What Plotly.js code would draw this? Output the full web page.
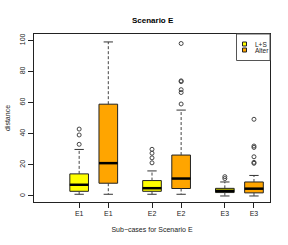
<!DOCTYPE html>
<html>
<head>
<meta charset="utf-8">
<script src="https://cdn.plot.ly/plotly-3.0.1.min.js"></script>
<style>html,body{margin:0;padding:0;background:#fff;}#chart{width:288px;height:245px;}</style>
</head>
<body>
<div id="chart"></div>
<script>
// ---- data ----
var tickLabels = ["E1", "E1", "E2", "E2", "E3", "E3"];
var groupNames = ["L+S", "Alter"];
var lsPos = [1, 3.5, 6];
var alterPos = [2, 4.5, 7];

var lsLower  = [1.1, 1.1, 0.0];
var lsQ1     = [3.0, 3.0, 2.2];
var lsMedian = [7.2, 5.0, 3.3];
var lsQ3     = [14.2, 9.9, 4.9];
var lsUpper  = [29.9, 16.1, 9.0];
var lsOutliers = [[33.2, 39.2, 43.0], [21.3, 24.5, 27.5, 30.0], [11.2, 12.4]];

var alterLower  = [1.1, 1.1, 0.0];
var alterQ1     = [8.2, 4.8, 2.0];
var alterMedian = [21.1, 11.2, 4.7];
var alterQ3     = [59.0, 26.3, 9.0];
var alterUpper  = [99.0, 55.2, 13.2];
var alterOutliers = [[], [59.1, 66.5, 68.3, 73.5, 74.0, 98.0], [21.0, 21.6, 25.2, 31.2, 32.1, 49.3]];

var yTicks = [0, 20, 40, 60, 80, 100];

// ---- styles ----
var colors = ["#FFFF00", "#FFA500"];
var FONT = "Liberation Sans, Arial, Helvetica, sans-serif";
var boxW = 0.64, stapleHalf = 0.16;
var edge = "#222";

function boxTrace(pos, q1, med, q3, col, name) {
  return {
    type: "box", x: pos, q1: q1, median: med, q3: q3,
    lowerfence: q1, upperfence: q3,
    width: boxW, whiskerwidth: 0,
    fillcolor: col, line: {color: edge, width: 1},
    boxpoints: false, hoverinfo: "skip", showlegend: false, name: name
  };
}
function whiskerTrace(pos, q1, q3, lo, hi) {
  var x = [], y = [];
  for (var i = 0; i < pos.length; i++) {
    x.push(pos[i], pos[i], null, pos[i], pos[i], null);
    y.push(q3[i], hi[i], null, q1[i], lo[i], null);
  }
  return {type: "scatter", mode: "lines", x: x, y: y, showlegend: false,
          hoverinfo: "skip", line: {color: "#444", width: 1, dash: "3px,2px"}};
}
function stapleTrace(pos, lo, hi) {
  var x = [], y = [];
  for (var i = 0; i < pos.length; i++) {
    x.push(pos[i] - stapleHalf, pos[i] + stapleHalf, null, pos[i] - stapleHalf, pos[i] + stapleHalf, null);
    y.push(hi[i], hi[i], null, lo[i], lo[i], null);
  }
  return {type: "scatter", mode: "lines", x: x, y: y, showlegend: false,
          hoverinfo: "skip", line: {color: "#333", width: 1}};
}
function medianTrace(pos, med) {
  var x = [], y = [];
  for (var i = 0; i < pos.length; i++) {
    x.push(pos[i] - boxW / 2, pos[i] + boxW / 2, null);
    y.push(med[i], med[i], null);
  }
  return {type: "scatter", mode: "lines", x: x, y: y, showlegend: false,
          hoverinfo: "skip", line: {color: "#000", width: 2.5}};
}
function outlierTrace(pos, outs) {
  var x = [], y = [];
  for (var i = 0; i < pos.length; i++) {
    for (var j = 0; j < outs[i].length; j++) { x.push(pos[i]); y.push(outs[i][j]); }
  }
  return {type: "scatter", mode: "markers", x: x, y: y, showlegend: false, hoverinfo: "skip",
          marker: {symbol: "circle-open", size: 4, color: "#444", line: {width: 1, color: "#444"}}};
}

var data = [
  whiskerTrace(lsPos, lsQ1, lsQ3, lsLower, lsUpper),
  whiskerTrace(alterPos, alterQ1, alterQ3, alterLower, alterUpper),
  stapleTrace(lsPos, lsLower, lsUpper),
  stapleTrace(alterPos, alterLower, alterUpper),
  boxTrace(lsPos, lsQ1, lsMedian, lsQ3, colors[0], groupNames[0]),
  boxTrace(alterPos, alterQ1, alterMedian, alterQ3, colors[1], groupNames[1]),
  medianTrace(lsPos, lsMedian),
  medianTrace(alterPos, alterMedian),
  outlierTrace(lsPos, lsOutliers),
  outlierTrace(alterPos, alterOutliers)
];

var allPos = [];
for (var k = 0; k < 3; k++) { allPos.push(lsPos[k], alterPos[k]); }

// legend drawn in paper coords (plot area: x 34..270, y 34..202 px)
function px2x(p) { return (p - 34) / 236; }
function py2y(p) { return (202 - p) / 168; }

var shapes = [
  {type: "rect", xref: "paper", yref: "paper", x0: px2x(236.5), x1: 1, y0: py2y(60.5), y1: 1,
   line: {color: "#555", width: 1}, fillcolor: "#fff"},
  {type: "rect", xref: "paper", yref: "paper", x0: px2x(242.5), x1: px2x(246.5), y0: py2y(46), y1: py2y(42),
   line: {color: edge, width: 1}, fillcolor: colors[0]},
  {type: "rect", xref: "paper", yref: "paper", x0: px2x(242.5), x1: px2x(246.5), y0: py2y(52), y1: py2y(48),
   line: {color: edge, width: 1}, fillcolor: colors[1]}
];
var annotations = [
  {xref: "paper", yref: "paper", x: px2x(253), y: py2y(44), xanchor: "left", yanchor: "middle",
   text: groupNames[0], showarrow: false, font: {family: FONT, size: 6.5, color: "#222"}},
  {xref: "paper", yref: "paper", x: px2x(253), y: py2y(50.5), xanchor: "left", yanchor: "middle",
   text: groupNames[1], showarrow: false, font: {family: FONT, size: 6.5, color: "#222"}}
];

var layout = {
  width: 288, height: 245,
  margin: {l: 34, r: 18, t: 34, b: 43, pad: 0},
  paper_bgcolor: "#fff", plot_bgcolor: "#fff",
  showlegend: false,
  font: {family: FONT, size: 7, color: "#222"},
  title: {text: "<b>Scenario E</b>", font: {family: FONT, size: 8, color: "#000"},
          x: 0.53, xanchor: "center", y: 0.918, yanchor: "middle"},
  xaxis: {
    range: [-0.55, 7.55], tickmode: "array", tickvals: allPos, ticktext: tickLabels,
    showgrid: false, zeroline: false, showline: true, mirror: true, linecolor: "#222", linewidth: 1,
    ticks: "outside", ticklen: 5, tickcolor: "#222", tickfont: {family: FONT, size: 7, color: "#222"},
    title: {text: "Sub\u2212cases for Scenario E", font: {family: FONT, size: 7, color: "#222"}, standoff: 10}
  },
  yaxis: {
    range: [-3.87, 104.1], tickmode: "array", tickvals: yTicks, ticktext: yTicks.map(String),
    tickangle: -90,
    showgrid: false, zeroline: false, showline: true, mirror: true, linecolor: "#222", linewidth: 1,
    ticks: "outside", ticklen: 5, tickcolor: "#222", tickfont: {family: FONT, size: 7, color: "#222"},
    title: {text: "distance", font: {family: FONT, size: 7, color: "#222"}, standoff: 7}
  },
  shapes: shapes,
  annotations: annotations
};

Plotly.newPlot("chart", data, layout, {staticPlot: true, displayModeBar: false});
</script>
</body>
</html>
